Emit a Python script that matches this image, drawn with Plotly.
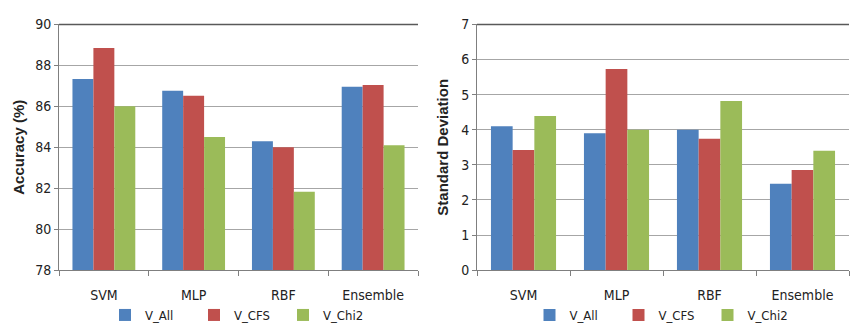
import plotly.graph_objects as go

categories = ["SVM", "MLP", "RBF", "Ensemble"]
series_names = ["V_All", "V_CFS", "V_Chi2"]
colors = ["#4F81BD", "#C0504D", "#9BBB59"]

accuracy_all = [87.33, 86.76, 84.3, 86.96]
accuracy_cfs = [88.85, 86.52, 84.0, 87.04]
accuracy_chi2 = [86.0, 84.5, 81.83, 84.1]

std_all = [4.1, 3.9, 4.0, 2.46]
std_cfs = [3.42, 5.73, 3.74, 2.85]
std_chi2 = [4.39, 4.0, 4.82, 3.4]

acc = [accuracy_all, accuracy_cfs, accuracy_chi2]
std = [std_all, std_cfs, std_chi2]

FONT = "DejaVu Sans Condensed, Liberation Sans Narrow, Liberation Sans, sans-serif"
TFONT = "Liberation Sans, Arial, sans-serif"

fig = go.Figure()
for name, vals, c in zip(series_names, acc, colors):
    fig.add_trace(go.Bar(x=categories, y=vals, name=name, marker_color=c,
                         marker_line_width=0, xaxis="x", yaxis="y", legend="legend"))
for name, vals, c in zip(series_names, std, colors):
    fig.add_trace(go.Bar(x=categories, y=vals, name=name, marker_color=c,
                         marker_line_width=0, xaxis="x2", yaxis="y2", legend="legend2"))

ytop = 1 - 17.5 / 330
ybot = 1 - 280 / 330

axis_common = dict(showline=True, linecolor="#7f7f7f", linewidth=1,
                   tickfont=dict(family=FONT, size=14, color="#222"))

legend_common = dict(orientation="h", xanchor="center", y=1 - 312 / 330, yanchor="top",
                     font=dict(family=FONT, size=13, color="#222"),
                     itemwidth=30, entrywidth=44, tracegroupgap=0,
                     bgcolor="rgba(0,0,0,0)")

fig.update_layout(
    width=854, height=330,
    margin=dict(l=0, r=0, t=0, b=0),
    paper_bgcolor="white", plot_bgcolor="white",
    barmode="group", bargap=0.3, bargroupgap=0,
    font=dict(family=FONT, color="#222"),
    xaxis=dict(domain=[59 / 854, 418 / 854], anchor="y", type="category",
               tickson="boundaries", ticks="outside", ticklen=5, tickcolor="#7f7f7f",
               ticklabelstandoff=12, **axis_common),
    yaxis=dict(domain=[ybot, ytop], anchor="x", range=[78, 90], dtick=2,
               ticks="outside", ticklen=4, tickcolor="#7f7f7f",
               showgrid=True, gridcolor="#a6a6a6", gridwidth=1,
               title=dict(text="<b>Accuracy (%)</b>", font=dict(family=TFONT, size=15, color="#222"), standoff=6),
               **axis_common),
    xaxis2=dict(domain=[477 / 854, 849 / 854], anchor="y2", type="category",
                tickson="boundaries", ticks="outside", ticklen=5, tickcolor="#7f7f7f",
                ticklabelstandoff=12, **axis_common),
    yaxis2=dict(domain=[ybot, ytop], anchor="x2", range=[0, 7], dtick=1,
                ticks="outside", ticklen=4, tickcolor="#7f7f7f",
                showgrid=True, gridcolor="#a6a6a6", gridwidth=1,
                title=dict(text="<b>Standard Deviation</b>", font=dict(family=TFONT, size=15, color="#222"), standoff=8),
                **axis_common),
    legend=dict(x=(59 + 418) / 2 / 854, **legend_common),
    legend2=dict(x=(477 + 849) / 2 / 854, **legend_common),
    shapes=[
        dict(type="line", xref="x domain", yref="y domain", x0=0, x1=1, y0=1, y1=1,
             line=dict(color="#595959", width=1.5)),
        dict(type="line", xref="x2 domain", yref="y2 domain", x0=0, x1=1, y0=1, y1=1,
             line=dict(color="#595959", width=1.5)),
    ],
)

fig.write_html("out.html")
